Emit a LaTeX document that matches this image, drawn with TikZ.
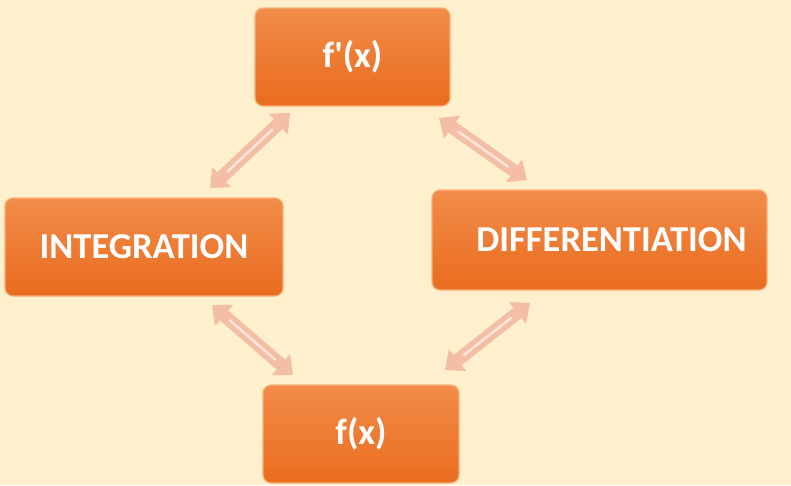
\documentclass[tikz,border=0pt]{standalone}
\usepackage{fontspec}
\setmainfont{Carlito}
\usetikzlibrary{arrows.meta,calc}
\definecolor{bgcream}{HTML}{FEF0CC}
\definecolor{boxtop}{HTML}{F28C4A}
\definecolor{boxbot}{HTML}{E96C1E}
\definecolor{boxedge}{HTML}{F7B07A}
\definecolor{arrowpink}{HTML}{F4BDA6}
\definecolor{arrowshine}{HTML}{FCE6DA}
\tikzset{
  box/.style={rounded corners=8pt, top color=boxtop, bottom color=boxbot,
    draw=boxedge, line width=1.2pt, text=white, font=\bfseries\fontsize{36.5}{40}\selectfont,
    minimum height=98pt, inner sep=0pt},
  fatarrow/.style={draw=arrowpink, line width=13pt,
    {Triangle[width=27pt,length=16pt]}-{Triangle[width=27pt,length=16pt]}},
  shine/.style={draw=arrowshine, line width=2.5pt, line cap=round}
}
\begin{document}
\begin{tikzpicture}[x=1pt,y=-1pt]
  \fill[bgcream] (0,0) rectangle (791,485);
  \useasboundingbox (0,0) rectangle (791,485);

  % the four boxes
  \node[box, minimum width=195pt] (fp)   at (352.5,57)  {f\textquotesingle(x)};
  \node[box, minimum width=278pt] (intg) at (144,247)   {INTEGRATION};
  \node[box, minimum width=335pt, minimum height=100pt] (diff) at (599.5,240) {\hspace*{24pt}DIFFERENTIATION};
  \node[box, minimum width=196pt] (f)    at (361,434)   {f(x)};

  % arrow tips
  \coordinate (a1) at (290,113); \coordinate (a2) at (210,188);
  \coordinate (b1) at (439,118); \coordinate (b2) at (527,180);
  \coordinate (c1) at (212,305); \coordinate (c2) at (293,375);
  \coordinate (d1) at (530,303); \coordinate (d2) at (445,370);

  % double-headed connectors
  \foreach \p/\q in {a1/a2, b1/b2, c1/c2, d1/d2}{
    \draw[fatarrow, arrowpink, fill=arrowpink] (\p) -- (\q);
    \draw[shine] ($(\p)!0.22!(\q)$) -- ($(\p)!0.78!(\q)$);
  }
\end{tikzpicture}
\end{document}
